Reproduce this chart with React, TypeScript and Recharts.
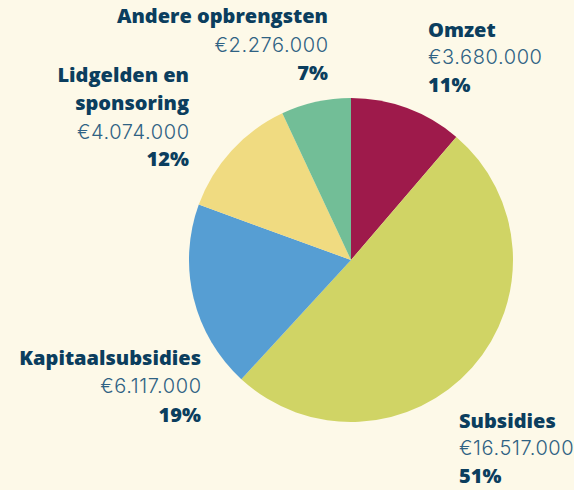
import { PieChart, Pie, Cell } from "recharts";

const categories = ["Omzet", "Subsidies", "Kapitaalsubsidies", "Lidgelden en sponsoring", "Andere opbrengsten"];
const amounts = [3680000, 16517000, 6117000, 4074000, 2276000];
const amountLabels = ["€3.680.000", "€16.517.000", "€6.117.000", "€4.074.000", "€2.276.000"];
const percentLabels = ["11%", "51%", "19%", "12%", "7%"];
const titleLines = [["Omzet"], ["Subsidies"], ["Kapitaalsubsidies"], ["Lidgelden en", "sponsoring"], ["Andere opbrengsten"]];

const colors = ["#9E1A4B", "#D0D465", "#569ED3", "#F0DB81", "#72BE97"];

// where each label block sits (baselines of successive lines)
const labelLayout = [
  { x: 428, anchor: "start", lines: [37, 64, 92] },
  { x: 459, anchor: "start", lines: [428, 455, 483] },
  { x: 201, anchor: "end", lines: [365, 393, 422] },
  { x: 189, anchor: "end", lines: [82, 110, 139, 166] },
  { x: 328, anchor: "end", lines: [23, 52, 80] },
];

const NAVY = "#0B3E5E";
const SOFT = "#2F6283";

const data = categories.map((name, i) => ({
  name,
  value: amounts[i],
}));

const renderLabel = (props: any) => {
  const i = props.index;
  const box = labelLayout[i];
  const titles = titleLines[i];
  const ys = box.lines;
  return (
    <g key={`lbl-${i}`}>
      {titles.map((t, j) => (
        <text
          key={t}
          x={box.x}
          y={ys[j]}
          textAnchor={box.anchor}
          fill={NAVY}
          fontFamily="'Open Sans', sans-serif"
          fontWeight={800}
          fontSize={20}
        >
          {t}
        </text>
      ))}
      <text
        x={box.anchor === "end" ? box.x + 0.6 : box.x}
        y={ys[titles.length]}
        textAnchor={box.anchor}
        fill={SOFT}
        fontFamily="Inter, sans-serif"
        fontWeight={300}
        fontSize={20}
        letterSpacing={0.6}
      >
        {amountLabels[i]}
      </text>
      <text
        x={box.x}
        y={ys[titles.length + 1]}
        textAnchor={box.anchor}
        fill={NAVY}
        fontFamily="'Open Sans', sans-serif"
        fontWeight={800}
        fontSize={20}
      >
        {percentLabels[i]}
      </text>
    </g>
  );
};

export default function App() {
  return (
    <div style={{ position: "absolute", left: 0, top: 0, width: 574, height: 490, background: "#FDF9E8" }}>
      <PieChart width={574} height={490} margin={{ top: 0, right: 0, bottom: 0, left: 0 }}>
        <Pie
          data={data}
          dataKey="value"
          nameKey="name"
          cx={351}
          cy={260}
          outerRadius={162}
          startAngle={90}
          endAngle={-270}
          stroke="none"
          label={renderLabel}
          labelLine={false}
          isAnimationActive={false}
        >
          {data.map((d, i) => (
            <Cell key={d.name} fill={colors[i]} />
          ))}
        </Pie>
      </PieChart>
    </div>
  );
}
